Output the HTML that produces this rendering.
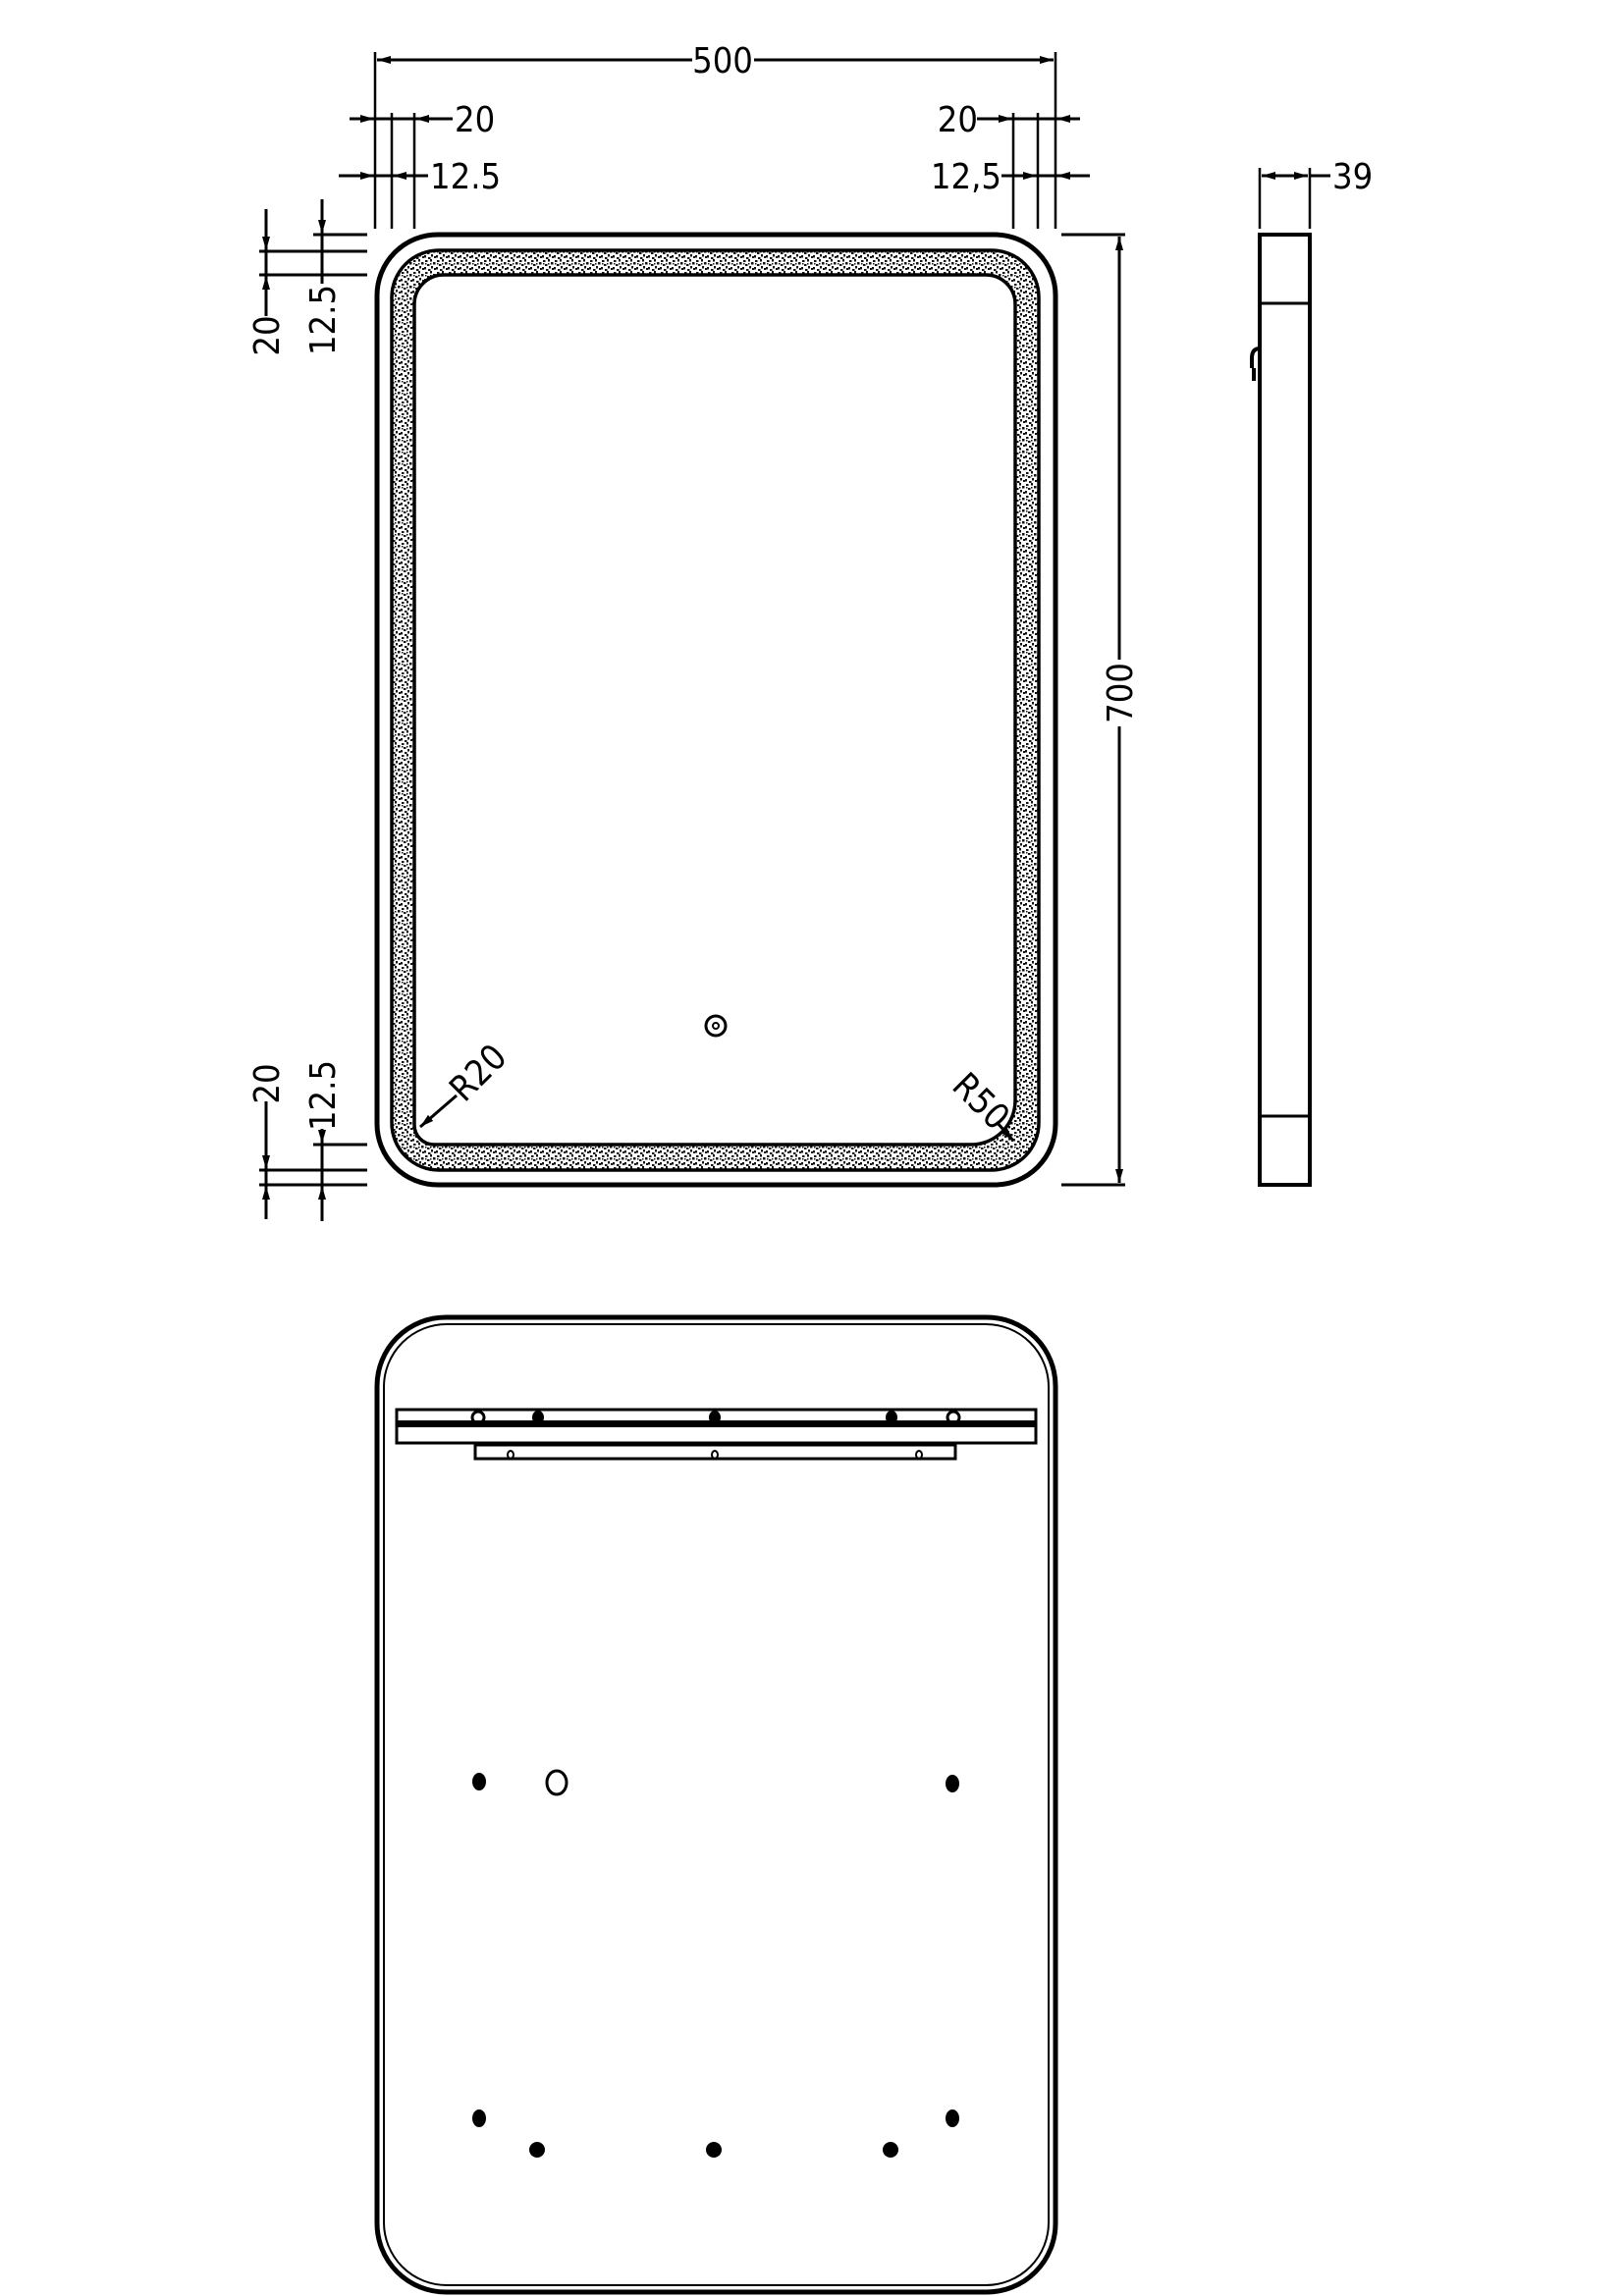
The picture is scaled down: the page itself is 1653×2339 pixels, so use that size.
<!DOCTYPE html>
<html><head><meta charset="utf-8"><style>
html,body{margin:0;padding:0;background:#fff;}
svg{display:block}
text{font-family:"DejaVu Sans Condensed","Liberation Sans Narrow","Liberation Sans",sans-serif;font-size:36px;fill:#000}
</style></head><body>
<svg width="1653" height="2339" viewBox="0 0 1653 2339" xmlns="http://www.w3.org/2000/svg">
<defs>
<marker id="a" viewBox="0 0 14 8" refX="14" refY="4" markerWidth="14" markerHeight="8" orient="auto-start-reverse" markerUnits="userSpaceOnUse">
<path d="M0,0 L14,4 L0,8 Z" fill="#000"/></marker>
<pattern id="h" width="12" height="12" patternUnits="userSpaceOnUse">
<rect width="12" height="12" fill="#fff"/>
<g fill="#111">
<rect x="1" y="1" width="2.5" height="2" />
<rect x="6" y="0" width="2" height="2.5"/>
<rect x="9" y="3" width="2.5" height="2.5"/>
<rect x="3" y="5" width="2.5" height="2"/>
<rect x="7" y="7" width="2" height="2.5"/>
<rect x="10" y="9" width="2" height="2"/>
<rect x="0" y="8" width="2" height="2.5"/>
<rect x="4" y="10" width="2.5" height="2"/>
<rect x="6" y="4" width="1.5" height="1.5"/>
<rect x="1" y="4" width="1.5" height="1.5"/>
</g>
</pattern>
</defs>
<g stroke="#000" fill="none">
<rect x="384" y="239" width="691" height="968" rx="62" stroke-width="5"/>
<rect x="399" y="255" width="659" height="937" rx="48" stroke-width="3.5" fill="url(#h)"/>
<path d="M452 280 H1004 A30 30 0 0 1 1034 310 V1121 A45 45 0 0 1 989 1166 H442 A20 20 0 0 1 422 1146 V310 A30 30 0 0 1 452 280 Z" stroke-width="3.5" fill="#fff"/>
<circle cx="729" cy="1045" r="10" stroke-width="3"/>
<circle cx="729" cy="1045" r="3" stroke-width="2"/>
<line x1="428" y1="1148" x2="465" y2="1116" stroke-width="3" marker-start="url(#a)"/>
<line x1="1032" y1="1162" x2="1015" y2="1143" stroke-width="3" marker-start="url(#a)"/>

<line x1="382" y1="53" x2="382" y2="233" stroke-width="2.5"/>
<line x1="1075" y1="53" x2="1075" y2="233" stroke-width="2.5"/>
<line x1="384" y1="61" x2="705" y2="61" stroke-width="3" marker-start="url(#a)"/>
<line x1="768" y1="61" x2="1073" y2="61" stroke-width="3" marker-end="url(#a)"/>
<line x1="399" y1="115" x2="399" y2="233" stroke-width="2.5"/>
<line x1="422" y1="115" x2="422" y2="233" stroke-width="2.5"/>
<line x1="356" y1="121" x2="381" y2="121" stroke-width="3" marker-end="url(#a)"/>
<line x1="382" y1="121" x2="422" y2="121" stroke-width="3"/>
<line x1="461" y1="121" x2="423" y2="121" stroke-width="3" marker-end="url(#a)"/>
<line x1="345" y1="179" x2="381" y2="179" stroke-width="3" marker-end="url(#a)"/>
<line x1="382" y1="179" x2="399" y2="179" stroke-width="3"/>
<line x1="436" y1="179" x2="400" y2="179" stroke-width="3" marker-end="url(#a)"/>
<line x1="1032" y1="115" x2="1032" y2="233" stroke-width="2.5"/>
<line x1="1057" y1="115" x2="1057" y2="233" stroke-width="2.5"/>
<line x1="995" y1="121" x2="1031" y2="121" stroke-width="3" marker-end="url(#a)"/>
<line x1="1032" y1="121" x2="1075" y2="121" stroke-width="3"/>
<line x1="1100" y1="121" x2="1076" y2="121" stroke-width="3" marker-end="url(#a)"/>
<line x1="1020" y1="179" x2="1056" y2="179" stroke-width="3" marker-end="url(#a)"/>
<line x1="1057" y1="179" x2="1075" y2="179" stroke-width="3"/>
<line x1="1110" y1="179" x2="1076" y2="179" stroke-width="3" marker-end="url(#a)"/>
<line x1="1081" y1="239" x2="1146" y2="239" stroke-width="3"/>
<line x1="1081" y1="1207" x2="1146" y2="1207" stroke-width="3"/>
<line x1="1140" y1="672" x2="1140" y2="241" stroke-width="3" marker-end="url(#a)"/>
<line x1="1140" y1="740" x2="1140" y2="1205" stroke-width="3" marker-end="url(#a)"/>
<line x1="319" y1="239" x2="374" y2="239" stroke-width="3"/>
<line x1="264" y1="256" x2="374" y2="256" stroke-width="3"/>
<line x1="264" y1="280" x2="374" y2="280" stroke-width="3"/>
<line x1="271" y1="213" x2="271" y2="255" stroke-width="3" marker-end="url(#a)"/>
<line x1="271" y1="256" x2="271" y2="280" stroke-width="3"/>
<line x1="271" y1="322" x2="271" y2="281" stroke-width="3" marker-end="url(#a)"/>
<line x1="328" y1="203" x2="328" y2="238" stroke-width="3" marker-end="url(#a)"/>
<line x1="328" y1="239" x2="328" y2="280" stroke-width="3"/>
<line x1="328" y1="289" x2="328" y2="281" stroke-width="3"/>
<line x1="319" y1="1166" x2="374" y2="1166" stroke-width="3"/>
<line x1="264" y1="1192" x2="374" y2="1192" stroke-width="3"/>
<line x1="264" y1="1207" x2="374" y2="1207" stroke-width="3"/>
<line x1="271" y1="1122" x2="271" y2="1191" stroke-width="3" marker-end="url(#a)"/>
<line x1="271" y1="1192" x2="271" y2="1207" stroke-width="3"/>
<line x1="271" y1="1242" x2="271" y2="1208" stroke-width="3" marker-end="url(#a)"/>
<line x1="328" y1="1150" x2="328" y2="1165" stroke-width="3" marker-end="url(#a)"/>
<line x1="328" y1="1166" x2="328" y2="1207" stroke-width="3"/>
<line x1="328" y1="1244" x2="328" y2="1208" stroke-width="3" marker-end="url(#a)"/>

<rect x="1283" y="239" width="51" height="968" stroke-width="4"/>
<line x1="1283" y1="309" x2="1334" y2="309" stroke-width="3"/>
<line x1="1283" y1="1137" x2="1334" y2="1137" stroke-width="3"/>
<path d="M1283 355 Q1275 355 1275 365 L1275 375 M1277 375 L1277 388" stroke-width="4"/>
<line x1="1283" y1="171" x2="1283" y2="233" stroke-width="2.5"/>
<line x1="1334" y1="171" x2="1334" y2="233" stroke-width="2.5"/>
<line x1="1308" y1="179" x2="1285" y2="179" stroke-width="3" marker-end="url(#a)"/>
<line x1="1308" y1="179" x2="1332" y2="179" stroke-width="3" marker-end="url(#a)"/>
<line x1="1334" y1="179" x2="1355" y2="179" stroke-width="3"/>

<rect x="384" y="1342" width="691" height="993" rx="70" stroke-width="5"/>
<rect x="391" y="1349" width="677" height="979" rx="64" stroke-width="2"/>
<rect x="404" y="1436" width="651" height="34" stroke-width="3"/>
<rect x="404" y="1447" width="651" height="7" fill="#000" stroke="none"/>
<rect x="484" y="1472" width="489" height="14" stroke-width="3"/>
</g>
<g fill="#000">
<ellipse cx="487" cy="1444" rx="6" ry="6" fill="none" stroke="#000" stroke-width="3"/>
<ellipse cx="548" cy="1444" rx="6" ry="7"/>
<ellipse cx="728" cy="1444" rx="6" ry="7"/>
<ellipse cx="908" cy="1444" rx="6" ry="7"/>
<ellipse cx="971" cy="1444" rx="6" ry="6" fill="none" stroke="#000" stroke-width="3"/>
<ellipse cx="520" cy="1482" rx="3" ry="4" fill="none" stroke="#000" stroke-width="2"/>
<ellipse cx="728" cy="1482" rx="3" ry="4" fill="none" stroke="#000" stroke-width="2"/>
<ellipse cx="936" cy="1482" rx="3" ry="4" fill="none" stroke="#000" stroke-width="2"/>
<ellipse cx="488" cy="1815" rx="7" ry="9"/>
<ellipse cx="567" cy="1816" rx="10" ry="12" fill="none" stroke="#000" stroke-width="3"/>
<ellipse cx="970" cy="1817" rx="7" ry="9"/>
<ellipse cx="488" cy="2158" rx="7" ry="9"/>
<ellipse cx="970" cy="2158" rx="7" ry="9"/>
<ellipse cx="547" cy="2190" rx="8" ry="8"/>
<ellipse cx="727" cy="2190" rx="8" ry="8"/>
<ellipse cx="907" cy="2190" rx="8" ry="8"/>
</g>
<text x="736" y="74" text-anchor="middle">500</text>
<text x="463" y="134">20</text>
<text x="438" y="192">12.5</text>
<text x="996" y="134" text-anchor="end">20</text>
<text x="1020" y="192" text-anchor="end">12,5</text>
<text x="1357" y="192">39</text>
<text transform="translate(1153,706) rotate(-90)" text-anchor="middle">700</text>
<text transform="translate(284,342) rotate(-90)" text-anchor="middle">20</text>
<text transform="translate(341,326) rotate(-90)" text-anchor="middle">12.5</text>
<text transform="translate(284,1104) rotate(-90)" text-anchor="middle">20</text>
<text transform="translate(341,1116) rotate(-90)" text-anchor="middle">12.5</text>
<text transform="translate(473,1124) rotate(-45)">R20</text>
<text transform="translate(968,1108) rotate(45)">R50</text>
</svg>
</body></html>
